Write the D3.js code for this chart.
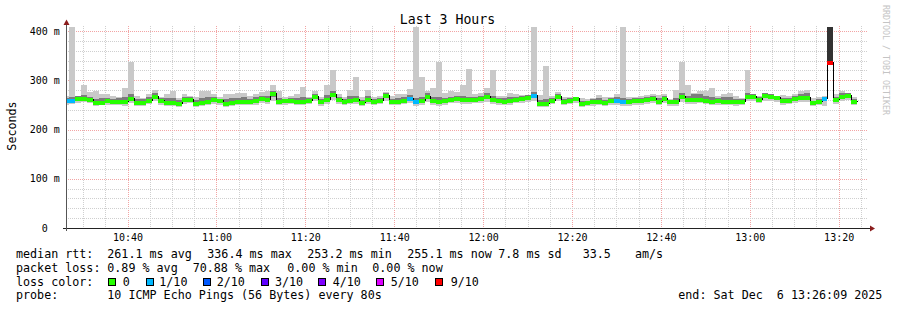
<!DOCTYPE html>
<html>
<head>
<meta charset="utf-8">
<script src="https://cdn.jsdelivr.net/npm/d3@7"></script>
<style>
  html, body { margin: 0; padding: 0; background: #fff; }
  svg { display: block; font-family: "DejaVu Sans Mono", monospace; }
  text { white-space: pre; }
</style>
</head>
<body>
<svg id="chart" width="897" height="310"></svg>
<script>
// --- data (milliseconds), one sample every 80 s starting 10:25:29 ---
const median = [
  259, 259, 263, 264, 262, 256.5, 256.5, 259, 257, 258.5,
  258.5, 264.6, 256, 256, 260.5, 268, 259, 256.5, 255, 254.4,
  262, 262, 254.4, 256.5, 258.5, 261, 259, 254, 255, 257,
  258.5, 258, 259, 263, 262, 273.5, 258.5, 259, 259.5, 258.5,
  258, 260, 268, 257, 262, 271.4, 262.6, 258, 260.5, 261,
  255, 262, 258.5, 260.5, 270.7, 258, 258, 260.5, 264, 257,
  259.5, 269, 259.5, 258, 259.5, 262.6, 263, 261, 261, 262.6,
  264, 268, 261, 259.5, 258.5, 259.5, 262.6, 263, 266, 271,
  254.4, 254.4, 259.5, 269, 258, 260, 263, 254.4, 255, 257,
  258.5, 256, 259.5, 259, 258, 257, 259.5, 259.5, 261, 263,
  258.5, 264, 257, 257, 268, 261, 261, 262.6, 260, 258,
  259.5, 258.5, 258, 257, 258.5, 269, 269, 262.6, 270.7, 268,
  266, 259.5, 259.5, 264, 265.7, 265.7, 255, 258, 264, 337,
  261, 269, 271, 258
];
// outer smoke (fastest / slowest ping)
const pingMax = [
  268, 420, 268, 290, 276, 278, 273, 273, 268, 266,
  284, 337, 268, 264, 273, 280, 265, 273, 278, 264,
  272, 268, 265, 278, 278, 273, 265, 273, 273, 274,
  274, 268, 273, 276, 278, 290, 278, 265, 268, 273,
  287, 265, 279, 265, 290, 321, 273, 266, 280, 306,
  266, 280, 265, 269, 276, 269, 273, 273, 282, 420,
  307, 279, 285, 338, 275, 278, 276, 290, 322, 273,
  274, 285, 321, 268, 269, 275, 273, 271, 268, 420,
  271, 328, 269, 276, 266, 266, 266, 264, 262, 264,
  271, 265, 265, 273, 420, 265, 265, 268, 271, 273,
  271, 273, 262, 280, 338, 290, 275, 279, 278, 285,
  269, 273, 275, 268, 264, 321, 273, 269, 273, 271,
  268, 271, 268, 273, 278, 280, 264, 267, 268, 450,
  273, 278, 275, 265
];
const pingMin = [
  250, 251, 254, 255, 253, 248, 249, 250, 249, 250,
  247, 254, 248, 248, 251, 257, 250, 248, 247, 246,
  252, 253, 246, 248, 250, 252, 250, 246, 247, 249,
  250, 249, 250, 254, 252, 258, 250, 250, 251, 249,
  249, 251, 257, 248, 252, 259, 252, 249, 251, 251,
  247, 251, 249, 251, 258, 249, 249, 251, 253, 248,
  250, 256, 250, 248, 250, 253, 253, 252, 251, 253,
  254, 256, 251, 250, 249, 250, 253, 254, 255, 258,
  246, 246, 251, 257, 249, 251, 253, 246, 247, 248,
  249, 247, 250, 250, 247, 248, 250, 250, 252, 253,
  250, 254, 248, 248, 256, 251, 252, 253, 251, 249,
  250, 249, 249, 248, 250, 258, 257, 253, 258, 257,
  256, 250, 251, 254, 255, 255, 247, 249, 247, 337,
  252, 258, 259, 250
];
// inner smoke (middle pings)
const innerHigh = [
  264, 266, 268, 270, 266, 262, 263, 264, 262, 264,
  265, 272, 262, 261, 266, 274, 263, 263, 263, 259,
  267, 266, 259, 264, 265, 266, 262, 262, 263, 264,
  265, 262, 265, 268, 268, 278, 264, 262, 263, 264,
  266, 264, 273, 261, 270, 278, 266, 262, 268, 268,
  260, 268, 262, 264, 274, 262, 264, 265, 270, 264,
  265, 274, 266, 266, 264, 267, 268, 268, 267, 267,
  268, 274, 268, 264, 263, 265, 267, 268, 270, 276,
  260, 262, 264, 273, 262, 264, 267, 258, 258, 261,
  264, 260, 263, 265, 264, 261, 263, 264, 265, 268,
  264, 268, 260, 264, 274, 268, 272, 272, 268, 266,
  264, 265, 265, 261, 262, 275, 273, 266, 274, 272,
  269, 264, 263, 269, 272, 274, 258, 262, 266, 450,
  266, 274, 275, 262
];
const innerLow = [
  255, 255, 259, 259, 258, 252, 252, 255, 253, 254,
  253, 260, 251, 252, 256, 263, 255, 252, 251, 250,
  257, 257, 250, 252, 254, 257, 255, 250, 251, 253,
  254, 254, 255, 259, 258, 267, 254, 255, 255, 254,
  254, 256, 263, 253, 258, 266, 258, 254, 256, 256,
  251, 257, 254, 256, 265, 254, 254, 256, 259, 252,
  255, 264, 255, 253, 255, 258, 259, 257, 257, 258,
  259, 263, 256, 255, 254, 255, 258, 259, 261, 266,
  250, 250, 255, 264, 254, 256, 259, 250, 251, 253,
  254, 252, 255, 254, 253, 253, 255, 255, 257, 259,
  254, 259, 253, 253, 262, 256, 257, 258, 256, 254,
  255, 254, 254, 253, 254, 264, 264, 258, 265, 263,
  261, 255, 255, 259, 261, 260, 251, 253, 257, 337,
  256, 264, 266, 253
];
// lost pings out of 10
const lostPings = [
  1, 1, 0, 0, 0, 0, 0, 0, 0, 0,
  0, 0, 0, 0, 0, 0, 0, 0, 0, 0,
  0, 0, 0, 0, 0, 0, 0, 0, 0, 0,
  0, 0, 0, 0, 0, 0, 0, 0, 0, 0,
  0, 0, 0, 0, 0, 0, 0, 0, 0, 0,
  0, 0, 0, 0, 0, 0, 0, 0, 1, 1,
  0, 0, 0, 0, 0, 0, 0, 0, 0, 0,
  0, 0, 0, 0, 0, 0, 0, 0, 0, 1,
  0, 0, 0, 0, 0, 0, 0, 0, 0, 0,
  0, 0, 0, 1, 1, 0, 0, 0, 0, 0,
  0, 0, 0, 0, 0, 0, 0, 0, 0, 0,
  0, 0, 0, 0, 0, 0, 0, 0, 0, 0,
  0, 0, 0, 0, 0, 0, 0, 0, 1, 7,
  0, 0, 0, 0
];

const yTicks = [0, 100, 200, 300, 400];
const lossLabels = ["0", "1/10", "2/10", "3/10", "4/10", "5/10", "9/10"];
const lossColors = ["#26ff00", "#00b8ff", "#0059ff", "#5e00ff", "#7e00ff", "#dd00ff", "#ff0000"];
const rttStats = ["261.1 ms avg", "336.4 ms max", "253.2 ms min", "255.1 ms now", "7.8 ms sd", "33.5", "am/s"];
const lossStats = ["0.89 % avg", "70.88 % max", "0.00 % min", "0.00 % now"];
const probeText = "10 ICMP Echo Pings (56 Bytes) every 80s";
const endText = "end: Sat Dec  6 13:26:09 2025";

// --- layout ---
const svg = d3.select("#chart");
const plotL = 66, plotR = 866, plotB = 228, plotT = 27;
const FONT = "DejaVu Sans Mono";

const tStart = new Date(2025, 11, 6, 10, 26, 9);
const tEnd = new Date(2025, 11, 6, 13, 26, 9);
const firstSample = new Date(2025, 11, 6, 10, 25, 29);
const stepMs = 80 * 1000;

const x = d3.scaleTime().domain([tStart, tEnd]).range([plotL, plotR]);
const y = d3.scaleLinear().domain([0, 400]).range([plotB, 31]);
const lossColor = d3.scaleThreshold().domain([1, 2, 3, 4, 5, 6]).range(lossColors);

const samples = median.map((m, i) => ({
  t0: new Date(+firstSample + i * stepMs),
  t1: new Date(+firstSample + (i + 1) * stepMs),
  med: m, lo: pingMin[i], hi: pingMax[i],
  loIn: innerLow[i], hiIn: innerHigh[i], loss: lostPings[i]
}));

svg.append("rect").attr("width", 897).attr("height", 310).attr("fill", "#fff");

// grid
const grid = svg.append("g").attr("shape-rendering", "crispEdges");
const minorTimes = d3.timeMinute.every(5).range(tStart, tEnd);
grid.selectAll("line.vx").data(minorTimes).join("line")
  .attr("x1", d => Math.round(x(d)) + 0.5).attr("x2", d => Math.round(x(d)) + 0.5)
  .attr("y1", plotT - 1).attr("y2", plotB)
  .attr("stroke", d => d.getMinutes() % 20 === 0 ? "#f2a4a4" : "#cfcfcf")
  .attr("stroke-dasharray", "1,1");
const yMinor = d3.range(20, 401, 20);
grid.selectAll("line.hy").data(yMinor).join("line")
  .attr("x1", plotL).attr("x2", plotR + 2)
  .attr("y1", d => Math.round(y(d)) + 0.5).attr("y2", d => Math.round(y(d)) + 0.5)
  .attr("stroke", d => d % 100 === 0 ? "#f2a4a4" : "#cfcfcf")
  .attr("stroke-dasharray", "1,1");

// plot
svg.append("clipPath").attr("id", "plotClip").append("rect")
  .attr("x", plotL).attr("y", plotT).attr("width", plotR - plotL).attr("height", plotB - plotT);
const plot = svg.append("g").attr("clip-path", "url(#plotClip)").attr("shape-rendering", "crispEdges");

const rx0 = d => Math.round(x(d.t0));
const rw = d => Math.round(x(d.t1)) - Math.round(x(d.t0));

plot.selectAll("rect.outer").data(samples).join("rect")
  .attr("x", rx0).attr("width", rw)
  .attr("y", d => y(d.hi)).attr("height", d => y(d.lo) - y(d.hi))
  .attr("fill", d => d.loss >= 6 ? "#323232" : "#c9c9c9");

plot.selectAll("rect.inner").data(samples).join("rect")
  .attr("x", rx0).attr("width", rw)
  .attr("y", d => y(d.hiIn)).attr("height", d => y(d.loIn) - y(d.hiIn))
  .attr("fill", d => d.loss >= 6 ? "#323232" : "#7c7c7c");

const stepLine = d3.line()
  .x(d => Math.round(x(d.t)) + 0.5)
  .y(d => Math.round(y(d.v)) + 0.5)
  .curve(d3.curveStepAfter);
const linePts = samples.map(d => ({ t: d.t0, v: d.med }));
linePts.push({ t: samples[samples.length - 1].t1, v: median[median.length - 1] });
plot.append("path").attr("d", stepLine(linePts))
  .attr("fill", "none").attr("stroke", "#000").attr("stroke-width", 1);

plot.selectAll("rect.med").data(samples).join("rect")
  .attr("x", rx0).attr("width", rw)
  .attr("y", d => Math.round(y(d.med)) - 1.5).attr("height", 4)
  .attr("fill", d => lossColor(d.loss));

// axes
const axisG = svg.append("g").attr("shape-rendering", "crispEdges");
axisG.append("line").attr("x1", plotL - 3).attr("x2", plotR + 5)
  .attr("y1", plotB + 0.5).attr("y2", plotB + 0.5).attr("stroke", "#222");
axisG.append("line").attr("x1", plotL + 0.5).attr("x2", plotL + 0.5)
  .attr("y1", plotB + 3).attr("y2", 23).attr("stroke", "#555");
svg.append("path").attr("d", `M${plotL - 2.5},25 L${plotL + 3.5},25 L${plotL + 0.5},19.5 Z`).attr("fill", "#8b1d1d");
svg.append("path").attr("d", `M${plotR + 4},${plotB - 2.5} L${plotR + 4},${plotB + 3.5} L${plotR + 9},${plotB + 0.5} Z`).attr("fill", "#8b1d1d");

const xAxis = d3.axisBottom(x)
  .ticks(d3.timeMinute.every(20))
  .tickFormat(d3.timeFormat("%H:%M"))
  .tickSize(0).tickPadding(5.5);
svg.append("g").attr("transform", `translate(0,${plotB})`).call(xAxis)
  .call(g => g.select(".domain").remove())
  .attr("font-family", FONT).attr("font-size", 10)
  .selectAll("text").attr("fill", "#000");

const yAxis = d3.axisLeft(y).tickValues(yTicks)
  .tickFormat(v => v === 0 ? "0" : v + " m").tickSize(0);
svg.append("g").attr("transform", `translate(${plotL},0)`).call(yAxis)
  .call(g => g.select(".domain").remove())
  .attr("font-family", FONT).attr("font-size", 10)
  .selectAll("text").attr("fill", "#000").attr("text-anchor", "middle").attr("x", -21.3);

// title, unit, watermark
svg.append("text").attr("x", 447.5).attr("y", 24).attr("text-anchor", "middle")
  .attr("font-family", FONT).attr("font-size", 13.2).attr("fill", "#000").text("Last 3 Hours");
svg.append("text").attr("transform", "translate(15.5,126) rotate(-90)").attr("text-anchor", "middle")
  .attr("font-family", FONT).attr("font-size", 11.7).attr("fill", "#000").text("Seconds");
svg.append("text").attr("transform", "translate(883,5) rotate(90)")
  .attr("font-family", FONT).attr("font-size", 8.3).attr("fill", "#c4c4c4").text("RRDTOOL / TOBI OETIKER");

// legend
const legend = svg.append("g").attr("font-family", FONT).attr("font-size", 11.7).attr("fill", "#000");
const rowY = [258, 272, 285.5, 299];
const rttX = [107.3, 207.3, 307.3, 407.3, 498.3, 582.7, 635];
const lossX = [107.3, 192.7, 287.3, 372.3];
const swatchX = [108.3, 145.7, 202.7, 260.7, 318.3, 376, 435];
const swatchLabelX = [122.7, 159.3, 216.7, 275, 332.7, 390.7, 450.7];

legend.append("text").attr("x", 16).attr("y", rowY[0]).text("median rtt:");
legend.selectAll("text.rtt").data(rttStats).join("text").attr("class", "rtt")
  .attr("x", (d, i) => rttX[i]).attr("y", rowY[0]).text(d => d);

legend.append("text").attr("x", 16).attr("y", rowY[1]).text("packet loss:");
legend.selectAll("text.ls").data(lossStats).join("text").attr("class", "ls")
  .attr("x", (d, i) => lossX[i]).attr("y", rowY[1]).text(d => d);

legend.append("text").attr("x", 16).attr("y", rowY[2]).text("loss color:");
legend.selectAll("rect.sw").data(lossColors).join("rect").attr("class", "sw")
  .attr("x", (d, i) => swatchX[i] + 0.5).attr("y", rowY[2] - 7.5)
  .attr("width", 7).attr("height", 7)
  .attr("fill", d => d).attr("stroke", "#000").attr("stroke-width", 1)
  .attr("shape-rendering", "crispEdges");
legend.selectAll("text.sl").data(lossLabels).join("text").attr("class", "sl")
  .attr("x", (d, i) => swatchLabelX[i]).attr("y", rowY[2]).text(d => d);

legend.append("text").attr("x", 16).attr("y", rowY[3]).text("probe:");
legend.append("text").attr("x", 107.3).attr("y", rowY[3]).text(probeText);
legend.append("text").attr("x", 678.3).attr("y", rowY[3]).text(endText);
</script>
</body>
</html>
